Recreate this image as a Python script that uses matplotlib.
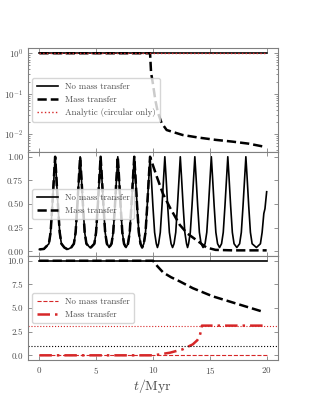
import matplotlib
matplotlib.use("Agg")
import matplotlib.pyplot as plt

plt.rcParams["font.family"] = ["cmr10", "DejaVu Serif"]
plt.rcParams["mathtext.fontset"] = "cm"
plt.rcParams["axes.formatter.use_mathtext"] = True
plt.rcParams["axes.unicode_minus"] = False

red = "#d62728"
grey = "0.5"
txt = "0.3"

# top panel: separation
t_flat = [0, 20]
a_flat = [1.0, 1.0]
t_a_mt = [0, 9.74, 9.83, 10.0, 10.2, 10.43, 10.75, 11.2, 12.6, 14.0, 15.5, 17.0, 18.4, 19.9]
a_mt = [1.0, 1.0, 0.33, 0.17, 0.07, 0.034, 0.019, 0.0126, 0.0095, 0.0082, 0.0072, 0.0065, 0.0058, 0.0048]

# middle panel: eccentricity, no mass transfer
t_e = [0.0, 0.4,
       0.84, 0.99, 1.14, 1.29, 1.39, 1.49, 1.64, 1.79, 1.94,
       2.2, 2.49, 2.8,
       3.04, 3.19, 3.34, 3.49, 3.59, 3.69, 3.84, 3.99, 4.14,
       4.49,
       4.84, 4.99, 5.14, 5.29, 5.39, 5.49, 5.64, 5.79, 5.94,
       6.145,
       6.35, 6.50, 6.65, 6.80, 6.90, 7.00, 7.15, 7.30, 7.45,
       7.625,
       7.80, 7.95, 8.10, 8.25, 8.35, 8.45, 8.60, 8.75, 8.90,
       9.045,
       9.19, 9.34, 9.49, 9.64, 9.74, 9.84, 9.99, 10.14, 10.29,
       10.39,
       10.49, 10.64, 10.79, 10.94, 11.04, 11.14, 11.29, 11.44, 11.59,
       11.72,
       11.85, 12.00, 12.15, 12.30, 12.40, 12.50, 12.65, 12.80, 12.95,
       13.04,
       13.13, 13.28, 13.43, 13.58, 13.68, 13.78, 13.93, 14.08, 14.23,
       14.405,
       14.58, 14.73, 14.88, 15.03, 15.13, 15.23, 15.38, 15.53, 15.68,
       15.855,
       16.03, 16.18, 16.33, 16.48, 16.58, 16.68, 16.83, 16.98, 17.13,
       17.375,
       17.62, 17.77, 17.92, 18.07, 18.17, 18.27, 18.42, 18.57, 18.72,
       19.1, 19.45, 19.6, 19.75, 19.85, 20.0]
e_nmt = [0.02, 0.025,
         0.08, 0.2, 0.48, 0.8, 1.0, 0.8, 0.48, 0.2, 0.08,
         0.04, 0.02, 0.04,
         0.08, 0.2, 0.48, 0.8, 1.0, 0.8, 0.48, 0.2, 0.08,
         0.035,
         0.08, 0.2, 0.48, 0.8, 1.0, 0.8, 0.48, 0.2, 0.08,
         0.04,
         0.08, 0.2, 0.48, 0.8, 1.0, 0.8, 0.48, 0.2, 0.08,
         0.04,
         0.08, 0.2, 0.48, 0.8, 1.0, 0.8, 0.48, 0.2, 0.08,
         0.04,
         0.08, 0.2, 0.48, 0.8, 1.0, 0.8, 0.48, 0.2, 0.08,
         0.04,
         0.08, 0.2, 0.48, 0.8, 1.0, 0.8, 0.48, 0.2, 0.08,
         0.04,
         0.08, 0.2, 0.48, 0.8, 1.0, 0.8, 0.48, 0.2, 0.08,
         0.04,
         0.08, 0.2, 0.48, 0.8, 1.0, 0.8, 0.48, 0.2, 0.08,
         0.04,
         0.08, 0.2, 0.48, 0.8, 1.0, 0.8, 0.48, 0.2, 0.08,
         0.04,
         0.08, 0.2, 0.48, 0.8, 1.0, 0.8, 0.48, 0.2, 0.08,
         0.04,
         0.08, 0.2, 0.48, 0.8, 1.0, 0.8, 0.48, 0.2, 0.08,
         0.04, 0.08, 0.2, 0.4, 0.45, 0.63]

# eccentricity with mass transfer: same as above until ~9.74 Myr, then decays
n_split = t_e.index(9.74) + 1
t_e_decay = [10.3, 10.87, 11.5, 12.35, 13.0, 13.8, 14.7, 15.5, 17.0, 20.0]
e_decay = [0.8, 0.61, 0.46, 0.28, 0.19, 0.12, 0.04, 0.015, 0.01, 0.01]
t_e_mt = t_e[:n_split] + t_e_decay
e_mt = e_nmt[:n_split] + e_decay

# bottom panel
t_b_mt = [0, 10.0, 10.4, 10.9, 11.6, 12.35, 13.5, 15.25, 17.6, 19.8]
b_mt = [10.0, 10.0, 9.4, 8.75, 8.25, 7.82, 7.1, 6.24, 5.37, 4.56]
t_r_mt = [0, 9.9, 10.5, 11.5, 12.6, 13.5, 13.9, 14.1, 14.2, 14.3, 20]
r_mt = [0, 0, 0.08, 0.28, 0.63, 1.16, 1.6, 2.0, 2.5, 3.14, 3.14]
r_nmt = [0.0, 0.0]
b_nmt = [10.0, 10.0]

fig, axes = plt.subplots(3, 1, figsize=(3.11, 4.05), dpi=100, sharex=True)
fig.subplots_adjust(left=0.09, right=0.894, top=0.8815, bottom=0.111, hspace=0)
ax1, ax2, ax3 = axes

ax1.plot(t_flat, a_flat, color="k", lw=1.2, label="No mass transfer")
ax1.plot(t_a_mt, a_mt, color="k", lw=1.8, ls="--", label="Mass transfer")
ax1.plot(t_flat, a_flat, color=red, lw=1.0, ls=":", label="Analytic (circular only)")
ax1.set_yscale("log")
ax1.set_ylim(0.0036, 1.35)
ax1.set_ylabel("$a/a_0$")

ax2.plot(t_e, e_nmt, color="k", lw=1.2, label="No mass transfer")
ax2.plot(t_e_mt, e_mt, color="k", lw=1.8, ls="--", label="Mass transfer")
ax2.set_ylim(-0.05, 1.05)
ax2.set_yticks([0, 0.25, 0.5, 0.75, 1.0])
ax2.set_yticklabels(["0.00", "0.25", "0.50", "0.75", "1.00"])
ax2.set_ylabel("$e$")

ax3.plot(t_flat, b_nmt, color="k", lw=1.2)
ax3.plot(t_b_mt, b_mt, color="k", lw=1.8, ls="--")
ax3.plot(t_flat, r_nmt, color=red, lw=0.8, ls="--", label="No mass transfer")
ax3.plot(t_r_mt, r_mt, color=red, lw=1.8, ls=(0, (5, 2, 1, 2)), label="Mass transfer")
ax3.axhline(3.14159, color=red, lw=0.8, ls=":")
ax3.axhline(1.0, color="k", lw=0.8, ls=":")
ax3.set_ylim(-0.5, 10.5)
ax3.set_yticks([0, 2.5, 5, 7.5, 10])
ax3.set_yticklabels(["0.0", "2.5", "5.0", "7.5", "10.0"])
ax3.set_ylabel(r"$\Omega,\ M/{\rm M}_\odot$")
ax3.set_xlim(-1, 21)
ax3.set_xticks([0, 5, 10, 15, 20])
ax3.set_xlabel("$t/{\\rm Myr}$", fontsize=10, color=txt, labelpad=1)

for ax in axes:
    ax.tick_params(which="both", direction="in", top=True, right=True,
                   labelsize=6.5, colors=grey, labelcolor=txt, length=3, width=0.6)
    ax.tick_params(which="minor", length=1.5)
    for s in ax.spines.values():
        s.set_color(grey)
    ax.yaxis.set_label_coords(-0.1, 0.5)
    ax.yaxis.label.set_color(txt)
    ax.yaxis.label.set_fontsize(8)
    leg = ax.legend(loc="center left", fontsize=6.3, handlelength=2.4,
                    borderpad=0.5, labelspacing=0.5)
    for tx in leg.get_texts():
        tx.set_color(txt)

fig.savefig("out.png", dpi=100)
